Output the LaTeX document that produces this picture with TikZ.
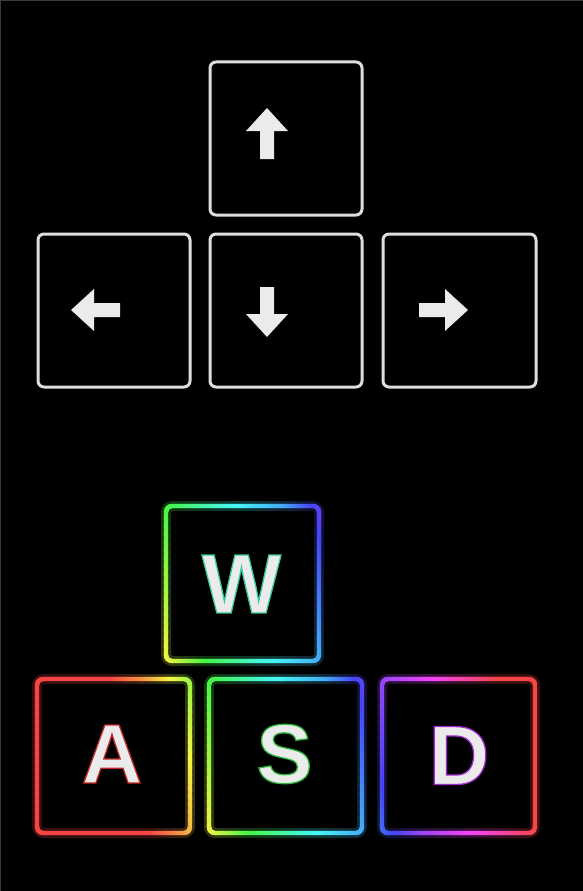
\documentclass[tikz,border=0pt]{standalone}
\usepackage{fontspec}
\newfontfamily\keyfont{Liberation Sans Bold}[FakeBold=1.5]
\usetikzlibrary{calc}
\definecolor{keygray}{HTML}{DEDEDE}
\definecolor{glyphwhite}{HTML}{EBEBEB}
\definecolor{framegray}{HTML}{3A3A3A}
\definecolor{haloW}{HTML}{30C8A0}
\definecolor{haloA}{HTML}{C82828}
\definecolor{haloS}{HTML}{28B838}
\definecolor{haloD}{HTML}{A028D0}
\newcommand\ledletter[2]{{\color{#1}\special{pdf:literal direct 0.922 0.922 0.922 rg}#2}}
\tikzset{
  arrowkey/.style={draw=keygray, line width=3pt, rounded corners=6pt,
    minimum width=152pt, minimum height=153pt, inner sep=0pt},
  glyph/.style={fill=glyphwhite},
  ledkey/.style={minimum width=153pt, minimum height=154pt, inner sep=0pt},
  letter/.style={font=\keyfont\fontsize{84}{84}\selectfont, inner sep=0pt, text=glyphwhite},
}
% ring: x1 y1 x2 y2 half-width outer-radius inner-radius
\newcommand\ledring[7]{%
  {[rounded corners=#6pt] (#1-#5,#2-#5) rectangle (#3+#5,#4+#5)}
  {[rounded corners=#7pt] (#1+#5,#2+#5) rectangle (#3-#5,#4-#5)}}
% rainbow strips: #1 fill opacity, #2 overlap
\newcommand\rainbowstrips[2]{%
  \foreach \ta/\tb/\ha/\hb in {-190/-60/0/0, -60/-25/0/30, -25/0/30/60,
      0/40/60/120, 40/100/120/175, 100/155/175/205, 155/185/205/240,
      185/215/240/270, 215/270/270/305, 270/330/305/359.9, 330/390/359.9/359.9}{%
    \pgfmathtruncatemacro\nn{ceil((\tb-\ta)/2)}%
    \foreach \i in {1,...,\nn}{%
      \pgfmathsetmacro\tl{\ta+(\i-1)*(\tb-\ta)/\nn}%
      \pgfmathsetmacro\tr{\ta+\i*(\tb-\ta)/\nn+#2}%
      \pgfmathsetmacro\hh{\ha+(\i-0.5)/\nn*(\hb-\ha)}%
      \definecolor{stripcol}{Hsb}{\hh,0.72,0.96}%
      \fill[stripcol, fill opacity=#1] (\tl+120,480) -- (\tr+120,480) -- (\tr+215,860) -- (\tl+215,860) -- cycle;
    }}}
\begin{document}
\begin{tikzpicture}[x=1pt, y=-1pt]
  \fill[black] (0,0) rectangle (583,891);
  \useasboundingbox (0,0) rectangle (583,891);
  \draw[framegray, line width=1.2pt] (0,0.6) -- (583,0.6);
  \draw[framegray, line width=1.2pt] (0.6,0) -- (0.6,891);

  % arrow keys
  \node[arrowkey] (keyup)    at (286,138.5) {};
  \node[arrowkey] (keyleft)  at (114,310.5) {};
  \node[arrowkey] (keydown)  at (286,310.5) {};
  \node[arrowkey, minimum width=153pt] (keyright) at (459.5,310.5) {};

  \fill[glyph] (267,108) -- (288,131) -- (274,131) -- (274,159) -- (260,159) -- (260,131) -- (246,131) -- cycle;
  \fill[glyph] (267,337) -- (288,314) -- (274,314) -- (274,287) -- (260,287) -- (260,314) -- (246,314) -- cycle;
  \fill[glyph] (71,310) -- (94,289) -- (94,303) -- (120,303) -- (120,317) -- (94,317) -- (94,331) -- cycle;
  \fill[glyph] (468,310) -- (445,289) -- (445,303) -- (419,303) -- (419,317) -- (445,317) -- (445,331) -- cycle;

  % WASD key frames (named)
  \node[ledkey] (keyW) at (242.5,583.5) {};
  \node[ledkey] (keyA) at (113.5,756) {};
  \node[ledkey] (keyS) at (285.5,756) {};
  \node[ledkey] (keyD) at (458.5,756) {};

  % glow
  \begin{scope}[even odd rule]
    \clip
      \ledring{166}{506}{319}{661}{5}{11}{2}
      \ledring{37}{679}{190}{833}{5}{11}{2}
      \ledring{209}{679}{362}{833}{5}{11}{2}
      \ledring{382}{679}{535}{833}{5}{11}{2};
    \rainbowstrips{0.22}{0}
  \end{scope}
  % ring
  \begin{scope}[even odd rule]
    \clip
      \ledring{166}{506}{319}{661}{2.2}{8}{4}
      \ledring{37}{679}{190}{833}{2.2}{8}{4}
      \ledring{209}{679}{362}{833}{2.2}{8}{4}
      \ledring{382}{679}{535}{833}{2.2}{8}{4};
    \rainbowstrips{1}{0.7}
  \end{scope}

  % letters: white fill with coloured edge
  \node[letter] (capW) at (241.5,584) {\ledletter{haloW}{W}};
  \node[letter] (capA) at (112,754) {\ledletter{haloA}{A}};
  \node[letter] (capS) at (284.5,754) {\ledletter{haloS}{S}};
  \node[letter] (capD) at (459,755.5) {\ledletter{haloD}{D}};
\end{tikzpicture}
\end{document}
